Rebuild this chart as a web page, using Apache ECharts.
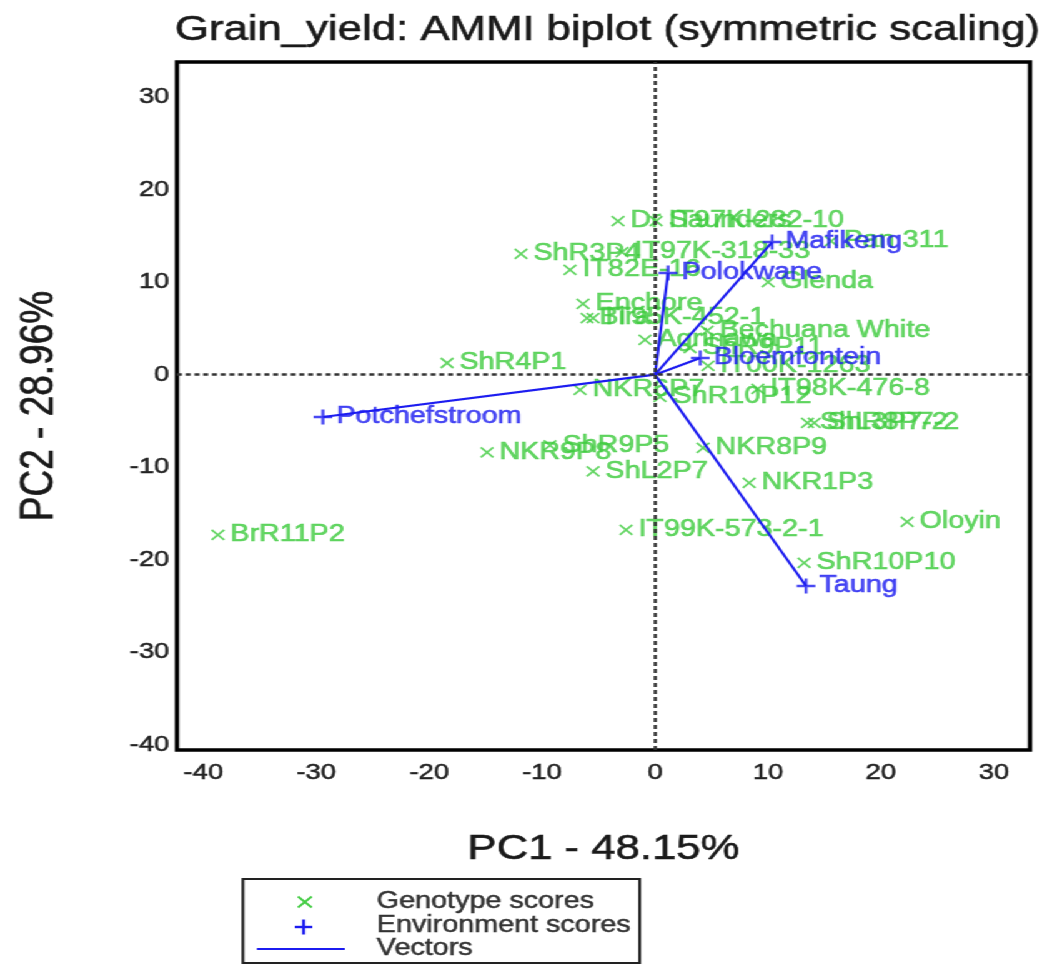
<!DOCTYPE html>
<html>
<head>
<meta charset="utf-8">
<script src="https://cdn.jsdelivr.net/npm/echarts@6.0.0/dist/echarts.min.js"></script>
<style>
  html, body { margin: 0; padding: 0; background: #fff; overflow: hidden; }
  #wrap { width: 1042px; height: 967px; overflow: hidden; }
  /* the plot is laid out on a narrower canvas and widened horizontally */
  #chart { width: 834px; height: 967px; transform: scaleX(1.2494); transform-origin: 0 0; }
</style>
</head>
<body>
<div id="wrap"><div id="chart"></div></div>
<script>
// Genotype scores (PC1, PC2)
const genoNames = [
  'Dr Saunders', 'IT97K-282-10', 'ShR3P4', 'IT97K-318-33', 'IT82E-16', 'Enchore',
  'Bira', 'IT95K-452-1', 'Agrinawa', 'Bechuana White', 'Pan 311', 'Glenda',
  'ShR4P1', 'NKR6P7', 'ShR10P12', 'IT98K-476-8', 'IT00K-1263', 'ShR9P11',
  'NKR9P8', 'ShR9P5', 'ShL2P7', 'NKR8P9', 'NKR1P3', 'IT99K-573-2-1',
  'Oloyin', 'ShR10P10', 'BrR11P2', 'ShL3P7-2', 'ShR8P7-2'
];
const genoPC1 = [
  -3.28, 0.09, -11.87, -2.92, -7.53, -6.38,
  -6.02, -5.49, -0.89, 4.61, 15.60, 10.01,
  -18.42, -6.64, 0.44, 9.10, 4.69, 3.10,
  -14.88, -9.30, -5.49, 4.25, 8.33, -2.57,
  22.32, 13.20, -38.71, 13.50, 14.10
];
const genoPC2 = [
  16.60, 16.60, 13.04, 13.25, 11.31, 7.64,
  6.12, 6.12, 3.75, 4.72, 14.44, 10.01,
  1.26, -1.65, -2.40, -1.54, 0.94, 2.88,
  -8.39, -7.64, -10.45, -7.92, -11.70, -16.77,
  -15.91, -20.34, -17.32, -5.20, -5.20
];

// Environment scores (PC1, PC2)
const envNames = ['Potchefstroom', 'Mafikeng', 'Polokwane', 'Bloemfontein', 'Taung'];
const envPC1 = [-29.41, 10.36, 1.15, 4.00, 13.37];
const envPC2 = [-4.57, 14.33, 10.99, 1.80, -22.83];

// Axis tick labels
const xTicks = [-40, -30, -20, -10, 0, 10, 20, 30];
const yTicks = [-40, -30, -20, -10, 0, 10, 20, 30];

const FONT = '"Liberation Sans", Arial, Helvetica, sans-serif';
const GREEN = '#40cc40';
const BLUE = '#1c1cf0';
const INK = '#1a1a1a';
const CROSS = 'path://M0,0L10,10M10,0L0,10';
const PLUS = 'path://M5,0L5,10M0,5L10,5';

const chart = echarts.init(document.getElementById('chart'), null, { renderer: 'canvas' });

const option = {
  animation: false,
  backgroundColor: '#fff',
  title: {
    text: 'Grain_yield: AMMI biplot (symmetric scaling)',
    left: 135,
    top: 8,
    textStyle: {
      fontFamily: FONT, fontSize: 35, fontWeight: 'normal', color: INK,
      textBorderColor: INK, textBorderWidth: 0.6
    }
  },
  grid: {
    left: 141.6, right: 9.6, top: 62, bottom: 217,
    show: true, borderColor: '#000', borderWidth: 3.5, backgroundColor: '#fff'
  },
  xAxis: {
    type: 'value', min: -42.34, max: 33.2,
    name: 'PC1 - 48.15%', nameLocation: 'middle', nameGap: 82,
    nameTextStyle: { fontFamily: FONT, fontSize: 35, color: INK, textBorderColor: INK, textBorderWidth: 0.6 },
    axisLine: { show: false }, axisTick: { show: false }, splitLine: { show: false },
    axisLabel: {
      customValues: xTicks, fontFamily: FONT, fontSize: 22, color: '#222', margin: 12,
      textBorderColor: '#222', textBorderWidth: 0.5
    }
  },
  yAxis: {
    type: 'value', min: -40.55, max: 33.78,
    name: 'PC2 - 28.96%', nameLocation: 'middle', nameGap: 91, nameRotate: 90,
    nameTextStyle: { fontFamily: FONT, fontSize: 37, color: INK, textBorderColor: INK, textBorderWidth: 0.6 },
    axisLine: { show: false }, axisTick: { show: false }, splitLine: { show: false },
    axisLabel: {
      customValues: yTicks, fontFamily: FONT, fontSize: 22, color: '#222', margin: 6,
      textBorderColor: '#222', textBorderWidth: 0.5
    }
  },
  series: [
    {
      name: 'Genotype scores',
      type: 'scatter',
      z: 2,
      symbol: CROSS,
      symbolSize: 10,
      itemStyle: { color: 'rgba(0,0,0,0)', borderColor: GREEN, borderWidth: 1.8 },
      label: {
        show: true, position: 'right', distance: 4, formatter: '{b}',
        color: GREEN, fontFamily: FONT, fontSize: 23,
        textBorderColor: GREEN, textBorderWidth: 0.6
      },
      emphasis: { disabled: true },
      data: genoNames.map((n, i) => ({ name: n, value: [genoPC1[i], genoPC2[i]] })),
      markLine: {
        silent: true,
        symbol: 'none',
        label: { show: false },
        lineStyle: { color: '#333', width: 2.5, type: [4, 3] },
        data: [{ xAxis: 0 }, { yAxis: 0 }]
      }
    },
    {
      name: 'Vectors',
      type: 'lines',
      coordinateSystem: 'cartesian2d',
      z: 3,
      lineStyle: { color: BLUE, width: 2.2, opacity: 1 },
      emphasis: { disabled: true },
      data: envNames.map((n, i) => ({ coords: [[0, 0], [envPC1[i], envPC2[i]]] }))
    },
    {
      name: 'Environment scores',
      type: 'scatter',
      z: 4,
      symbol: PLUS,
      symbolSize: 15,
      itemStyle: { color: 'rgba(0,0,0,0)', borderColor: BLUE, borderWidth: 2.4 },
      label: {
        show: true, position: 'right', distance: 2, formatter: '{b}',
        color: BLUE, fontFamily: FONT, fontSize: 23,
        textBorderColor: BLUE, textBorderWidth: 0.6
      },
      emphasis: { disabled: true },
      data: envNames.map((n, i) => ({ name: n, value: [envPC1[i], envPC2[i]] }))
    }
  ],
  graphic: [
    {
      type: 'group',
      children: [
        { type: 'rect', shape: { x: 194.4, y: 879, width: 317.6, height: 84 },
          style: { fill: '#fff', stroke: '#222', lineWidth: 2.2 } },
        // genotype marker
        { type: 'line', shape: { x1: 238.5, y1: 896.5, x2: 249.5, y2: 907.5 }, style: { stroke: GREEN, lineWidth: 1.8 } },
        { type: 'line', shape: { x1: 249.5, y1: 896.5, x2: 238.5, y2: 907.5 }, style: { stroke: GREEN, lineWidth: 1.8 } },
        // environment marker
        { type: 'line', shape: { x1: 243, y1: 919.5, x2: 243, y2: 934.5 }, style: { stroke: BLUE, lineWidth: 2.4 } },
        { type: 'line', shape: { x1: 236, y1: 927, x2: 250, y2: 927 }, style: { stroke: BLUE, lineWidth: 2.4 } },
        // vector line
        { type: 'line', shape: { x1: 205.6, y1: 949, x2: 276, y2: 949 }, style: { stroke: BLUE, lineWidth: 2.2 } },
        { type: 'text', x: 301.6, y: 902, style: { text: 'Genotype scores', font: '23px ' + FONT, fill: '#333', stroke: '#333', lineWidth: 0.5, verticalAlign: 'middle' } },
        { type: 'text', x: 301.6, y: 926, style: { text: 'Environment scores', font: '23px ' + FONT, fill: '#333', stroke: '#333', lineWidth: 0.5, verticalAlign: 'middle' } },
        { type: 'text', x: 301.6, y: 949, style: { text: 'Vectors', font: '23px ' + FONT, fill: '#333', stroke: '#333', lineWidth: 0.5, verticalAlign: 'middle' } }
      ]
    }
  ]
};

chart.setOption(option);
</script>
</body>
</html>
